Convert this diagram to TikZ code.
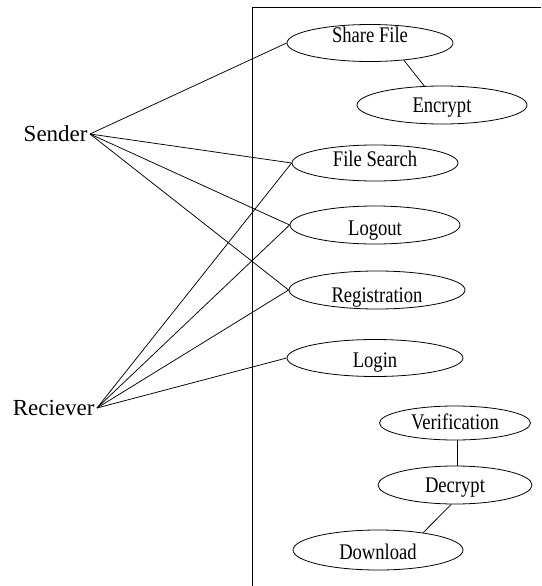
\documentclass[tikz,border=0pt]{standalone}
\usepackage{fontspec}
\setmainfont{Liberation Serif}
\usetikzlibrary{shapes.geometric}
\newcommand\uctext[2]{\raisebox{#1pt}[0pt][0pt]{\scalebox{1}[1.2]{#2}}}
\begin{document}
\begin{tikzpicture}[x=1pt,y=-1pt,
  line width=0.8pt,
  usecase/.style={draw, ellipse, inner sep=0pt, font=\fontsize{18.6}{20}\selectfont},
  actor/.style={inner xsep=2pt, inner ysep=0pt, font=\fontsize{23}{25}\selectfont},
  assoc/.style={draw, line width=0.75pt}]
\useasboundingbox (0,0) rectangle (541,586);
\fill[white] (0,0) rectangle (541,586);
% system boundary
\coordinate (bl) at (252,586);
\coordinate (tl) at (252,7);
\coordinate (tr) at (541,7);
\draw[line width=0.8pt] (bl) -- (tl) -- (tr);
% use cases
\node[usecase, minimum width=166, minimum height=37] (share) at (370,43) {\uctext{0.7}{Share File}};
\node[usecase, minimum width=170, minimum height=38] (encrypt) at (442,105) {\uctext{-7.3}{Encrypt}};
\node[usecase, minimum width=166, minimum height=36] (search) at (375,163) {\uctext{-3.8}{File Search}};
\node[usecase, minimum width=170, minimum height=38] (logout) at (375,225) {\uctext{-10.8}{Logout}};
\node[usecase, minimum width=176, minimum height=38] (reg) at (377,290) {\uctext{-12.8}{Registration}};
\node[usecase, minimum width=176, minimum height=37] (login) at (375,358) {\uctext{-9.3}{Login}};
\node[usecase, minimum width=151, minimum height=34] (verif) at (455,423) {\uctext{-6.3}{Verification}};
\node[usecase, minimum width=154, minimum height=38] (decrypt) at (455,485) {\uctext{-7.3}{Decrypt}};
\node[usecase, minimum width=170, minimum height=40] (download) at (378,550) {\uctext{-9.3}{Download}};
% actors
\node[actor, anchor=east] (sender) at (90,134) {Sender};
\node[actor, anchor=east] (recv) at (97,408) {Reciever};
% associations
\draw[assoc] (sender.east) -- (share.west);
\draw[assoc] (sender.east) -- (search.west);
\draw[assoc] (sender.east) -- (logout.west);
\draw[assoc] (sender.east) -- (reg.west);
\draw[assoc] (recv.east) -- (search.west);
\draw[assoc] (recv.east) -- (logout.west);
\draw[assoc] (recv.east) -- (reg.west);
\draw[assoc] (recv.east) -- (login.west);
\draw[assoc] (share.-27) -- (encrypt.133);
\draw[assoc] (verif.-82) -- (verif.-82 |- decrypt.north);
\draw[assoc] (decrypt.-101) -- (download.21);
\end{tikzpicture}
\end{document}
